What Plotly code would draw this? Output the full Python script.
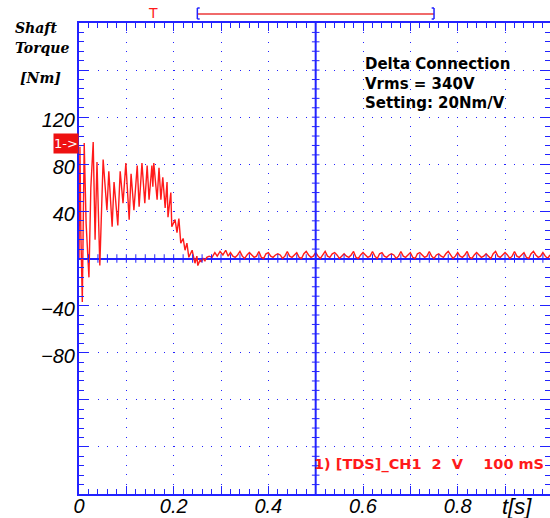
import plotly.graph_objects as go

# ---------------- data ----------------
trans_t = [0.000, 0.002, 0.004, 0.007, 0.011, 0.015, 0.021, 0.025, 0.030, 0.034,
           0.038, 0.044, 0.051, 0.059, 0.063, 0.070, 0.074, 0.082, 0.087, 0.093,
           0.099, 0.106, 0.110, 0.116, 0.123, 0.127, 0.133, 0.139, 0.144, 0.148,
           0.154, 0.156, 0.158, 0.165, 0.169, 0.173, 0.177, 0.182, 0.186, 0.188,
           0.194, 0.196, 0.203, 0.207, 0.211, 0.215, 0.220, 0.224, 0.228, 0.232,
           0.239, 0.245, 0.249, 0.251, 0.256, 0.258, 0.262, 0.266, 0.270, 0.275,
           0.281, 0.287, 0.292, 0.298, 0.304, 0.310, 0.315]
trans_T = [0, 95, 20, -37, 98, 30, -16, 60, 99, 16,
           82, -6, 84, 41, 74, 27, 65, 28, 74, 47,
           81, 33, 72, 41, 79, 44, 81, 47, 79, 50,
           79, 61, 81, 50, 77, 50, 69, 43, 65, 35,
           56, 27, 33, 22, 34, 13, 17, 7, 13, 1,
           7, -4, 2, -6, -1, -3, 0, -2, 1, 2,
           1, 5, 2, 6, 3, 7, 2]

steady_start = 0.32
steady_step = 0.005
steady_T = [5, 2, 1, 3, 6, 2, 0, 3, 5, 3, 1, 2, 6, 1, 0, 4, 5, 2, 1, 3,
            4, 3, 0, 2, 6, 2, 1, 3, 5, 1, 0, 4, 6, 3, 1, 2, 5, 2, 0, 3,
            6, 2, 1, 4, 5, 3, 0, 2, 4, 2, 1, 3, 6, 1, 0, 3, 5, 3, 1, 2,
            6, 2, 0, 4, 5, 2, 1, 3, 4, 3, 0, 2, 6, 2, 1, 3, 5, 1, 0, 4,
            5, 3, 1, 2, 6, 2, 0, 3, 4, 2, 1, 4, 6, 3, 0, 2, 5, 2, 1, 3,
            6, 1, 0, 3, 5, 3, 1, 2, 4, 2, 0, 4, 6, 2, 1, 3, 5, 3, 0, 2,
            6, 2, 1, 3, 5, 1, 0, 4, 6, 3, 1, 2, 5, 2, 0, 3]

x_tick_vals = [0.0, 0.1, 0.2, 0.3, 0.4, 0.5, 0.6, 0.7, 0.8, 0.9]
x_tick_text = ["0", "", "0.2", "", "0.4", "", "0.6", "", "0.8", ""]
y_tick_vals = [-200, -160, -120, -80, -40, 0, 40, 80, 120, 160, 200]
y_tick_text = ["", "", "", "\u221280", "\u221240", "", "40", "80", "120", "", ""]
window = [0.25, 0.75]
trigger_t = 0.156

steady_t = [round(steady_start + i * steady_step, 4) for i in range(len(steady_T))]
t_all = trans_t + steady_t
T_all = trans_T + steady_T

# ---------------- geometry helpers ----------------
L, TOP, W, H = 79, 23, 471, 471
FW, FH = 550, 518


def px(x):
    return (x - L) / W


def py(y):
    return (TOP + H - y) / H


BLUE = "#2222ff"
RED = "#ff1a1a"

fig = go.Figure()
fig.add_trace(go.Scatter(x=t_all, y=T_all, mode="lines",
                         line=dict(color=RED, width=1.4), hoverinfo="skip"))

shapes = []
# vertical centre line
shapes.append(dict(type="line", xref="x", yref="paper", x0=0.5, x1=0.5, y0=0, y1=1,
                   line=dict(color=BLUE, width=2)))
# cross ticks on centre lines
for k in range(1, 50):
    xv = k * 0.02
    shapes.append(dict(type="line", xref="x", yref="y", x0=xv, x1=xv, y0=-3.6, y1=3.6,
                       line=dict(color=BLUE, width=1)))
for k in range(-24, 25):
    if k == 0:
        continue
    yv = k * 8
    shapes.append(dict(type="line", xref="x", yref="y", x0=0.5 - 0.008, x1=0.5 + 0.008,
                       y0=yv, y1=yv, line=dict(color=BLUE, width=1)))
# acquisition window indicator on top
ywin = py(14)
shapes.append(dict(type="line", xref="x", yref="paper", x0=window[0], x1=window[1],
                   y0=ywin, y1=ywin, line=dict(color="#f06a6a", width=2)))
for xw, d in ((window[0], 1), (window[1], -1)):
    shapes.append(dict(type="line", xref="x", yref="paper", x0=xw, x1=xw,
                       y0=py(8), y1=py(19), line=dict(color=BLUE, width=1.5)))
    shapes.append(dict(type="line", xref="x", yref="paper", x0=xw, x1=xw + d * 0.005,
                       y0=py(8), y1=py(8), line=dict(color=BLUE, width=1.5)))
    shapes.append(dict(type="line", xref="x", yref="paper", x0=xw, x1=xw + d * 0.005,
                       y0=py(19), y1=py(19), line=dict(color=BLUE, width=1.5)))

ann = []
serif = dict(family="DejaVu Serif", size=14, color="black", style="italic", weight="bold")
for txt, x, y in (("Shaft", 13, 28), ("Torque", 13, 48), ("[Nm]", 18, 78)):
    ann.append(dict(text=txt, xref="paper", yref="paper", x=px(x), y=py(y),
                    xanchor="left", yanchor="middle", showarrow=False, font=serif))
# channel marker
ann.append(dict(text="1->", xref="paper", yref="paper", x=px(79), y=py(143),
                xanchor="right", yanchor="middle", showarrow=False,
                bgcolor="#ee1111", width=22, height=17, borderpad=1,
                font=dict(family="DejaVu Sans", size=13, color="white")))
# trigger mark
ann.append(dict(text="T", xref="x", yref="paper", x=trigger_t, y=py(13),
                xanchor="center", yanchor="middle", showarrow=False,
                font=dict(family="DejaVu Sans", size=14, color=RED)))
bold = dict(family="DejaVu Sans", size=15, color="black", weight="bold")
for txt, y in (("Delta Connection", 64), ("Vrms = 340V", 84), ("Setting: 20Nm/V", 103)):
    ann.append(dict(text=txt, xref="paper", yref="paper", x=px(363), y=py(y),
                    xanchor="left", yanchor="middle", showarrow=False, font=bold))
ann.append(dict(text="1) [TDS]_CH1  2  V    100 mS", xref="paper", yref="paper",
                x=px(312), y=py(464), xanchor="left", yanchor="middle", showarrow=False,
                font=dict(family="DejaVu Sans", size=14.5, color=RED, weight="bold")))
ann.append(dict(text="t[s]", xref="paper", yref="paper", x=px(500), y=py(506),
                xanchor="left", yanchor="middle", showarrow=False,
                font=dict(family="Liberation Sans", size=22, color="black", style="italic")))

tickfont = dict(family="Liberation Sans", size=20, color="black", style="italic")
fig.update_layout(
    width=FW, height=FH, margin=dict(l=L, r=FW - L - W, t=TOP, b=FH - TOP - H, autoexpand=False),
    paper_bgcolor="white", plot_bgcolor="white", showlegend=False,
    shapes=shapes, annotations=ann,
    xaxis=dict(range=[0, 0.995], tickmode="array", tickvals=x_tick_vals,
               ticktext=x_tick_text, tickfont=tickfont, automargin=False,
               ticklabelstandoff=-7,
               showgrid=True, gridcolor=BLUE, gridwidth=1, griddash="1px,8.4px",
               showline=True, linecolor=BLUE, linewidth=2, mirror="ticks",
               ticks="inside", ticklen=8, tickcolor=BLUE, tickwidth=1,
               minor=dict(tickmode="linear", tick0=0, dtick=0.02, ticks="inside",
                          ticklen=5, tickcolor=BLUE, tickwidth=1, showgrid=False),
               zeroline=False, fixedrange=True),
    yaxis=dict(range=[-200, 200], tickmode="array", tickvals=y_tick_vals,
               ticktext=y_tick_text, tickfont=tickfont, automargin=False,
               ticklabelstandoff=-2, ticklabelshift=3,
               showgrid=True, gridcolor=BLUE, gridwidth=1, griddash="1px,8.45px",
               showline=True, linecolor=BLUE, linewidth=2, mirror="ticks",
               ticks="inside", ticklen=10, tickcolor=BLUE, tickwidth=1,
               minor=dict(tickmode="linear", tick0=0, dtick=8, ticks="inside",
                          ticklen=5, tickcolor=BLUE, tickwidth=1, showgrid=False),
               zeroline=True, zerolinecolor=BLUE, zerolinewidth=2, fixedrange=True),
)

fig.write_html("out.html", config={"displayModeBar": False},
               post_script="document.body.style.margin='0';document.body.style.overflow='hidden';")
